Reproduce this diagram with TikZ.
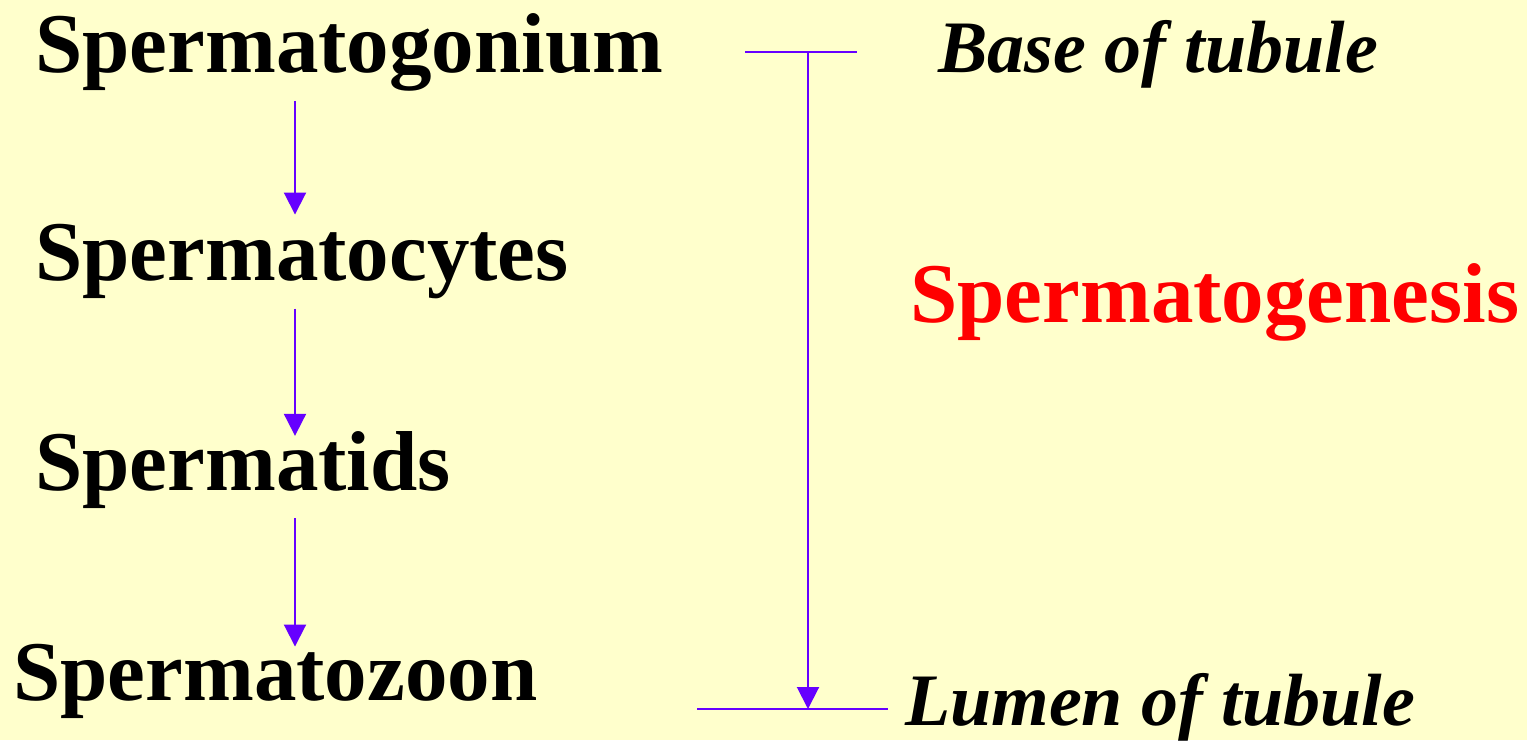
\documentclass[tikz,border=0pt]{standalone}
\usepackage{fontspec}
\setmainfont{Liberation Serif}
\usetikzlibrary{arrows.meta,positioning,calc}
\definecolor{bgyellow}{RGB}{255,255,204}
\definecolor{lineviolet}{RGB}{102,0,255}

\begin{document}
\begin{tikzpicture}[x=1pt,y=-1pt,
  stage/.style={anchor=base west,inner sep=0pt,font=\fontsize{85}{90}\selectfont\bfseries},
  place/.style={anchor=base west,inner sep=0pt,font=\fontsize{74}{80}\selectfont\bfseries\itshape},
  flow/.style={lineviolet,line width=2pt,-{Triangle[width=22pt,length=22pt]}},
  bar/.style={lineviolet,line width=2pt}]
\fill[bgyellow] (0,0) rectangle (1527,740);
\useasboundingbox (0,0) rectangle (1527,740);

% stages, top to bottom
\node[stage] (gonium) at (35,72) {Spermatogonium};
\node[stage] (cytes) at (35,280) {Spermatocytes};
\node[stage] (tids) at (35,490) {Spermatids};
\node[stage] (zoon) at (13,700) {Spermatozoon};
\coordinate (ax) at (295,0);
\draw[flow,shorten <=10pt,shorten >=9pt] (gonium.south -| ax) -- (cytes.north -| ax);
\draw[flow,shorten <=10pt,shorten >=-5pt] (cytes.south -| ax) -- (tids.north -| ax);
\draw[flow,shorten <=10pt,shorten >=-3pt] (tids.south -| ax) -- (zoon.north -| ax);

% base to lumen
\node[place] (base) at (938,72) {Base of tubule};
\node[place] (lumen) at (905,725) {Lumen of tubule};
\node[stage,text=red] (genesis) at (910,322) {Spermatogenesis};
\coordinate (top) at (808,52);
\coordinate (bottom) at (808,709);
\draw[bar] ($(top)+(-63,0)$) -- ($(top)+(49,0)$);
\draw[bar] ($(bottom)+(-111,0)$) -- ($(bottom)+(80,0)$);
\draw[flow] (top) -- (bottom);
\end{tikzpicture}
\end{document}
